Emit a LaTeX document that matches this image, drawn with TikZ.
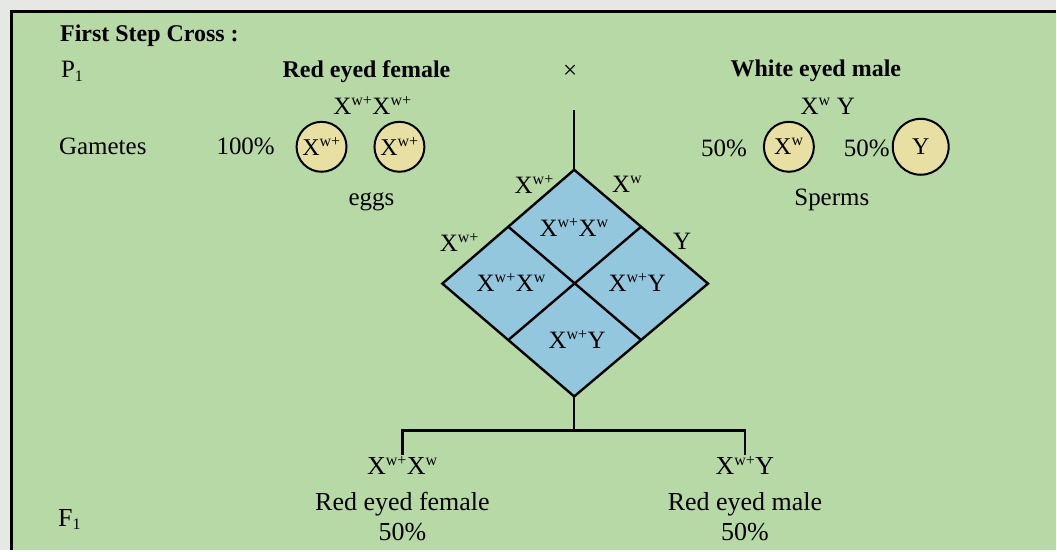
\documentclass[tikz,border=0pt]{standalone}
\usepackage{fontspec}
\setmainfont{Liberation Serif}
\usetikzlibrary{positioning,calc}
\definecolor{Paper}{HTML}{E6E8E3}
\definecolor{Leaf}{HTML}{B7D9A6}
\definecolor{Sky}{HTML}{93C7DE}
\definecolor{Cream}{HTML}{E8E0A2}
\newcommand{\gene}[1]{X\textsuperscript{\fontsize{16}{16}\selectfont #1}}
\newcommand{\gen}[2]{#1\textsubscript{\fontsize{16}{16}\selectfont #2}}

\begin{document}
\begin{tikzpicture}[x=1pt,y=-1pt,
    txt/.style={font=\fontsize{25}{29}\selectfont, inner sep=1pt, anchor=base},
    bold/.style={txt, font=\fontsize{24}{28}\selectfont\bfseries},
    gamete/.style={circle, draw, line width=2pt, fill=Cream, minimum size=50pt, inner sep=0pt, font=\fontsize{24}{28}\selectfont},
    grid/.style={line width=2.4pt}
  ]
    % page and frame
    \fill[Paper] (0,0) rectangle (1057,551);
    \fill[Leaf] (12,12) rectangle (1057,551);
    \draw[line width=3pt] (1057,12) -- (12,12) -- (12,551);

    % parents
    \node[bold, anchor=base west] (title) at (59,42) {First Step Cross :};
    \node[txt, anchor=base west] (p1) at (60,78) {\gen{P}{1}};
    \node[bold] (mother) at (367,78) {Red eyed female};
    \node[txt] (cross) at (571,79) {×};
    \node[bold] (father) at (817,77) {White eyed male};
    \node[txt] (mgeno) at (373,115) {\gene{w+}\gene{w+}};
    \node[txt] (fgeno) at (829,115) {\gene{w}\ Y};

    % gametes
    \node[txt, anchor=base west] (gam) at (58,155) {Gametes};
    \node[txt] (pctA) at (246,155) {100\%};
    \node[gamete] (eggA) at (322,147) {\gene{w+}};
    \node[gamete] (eggB) at (400,147) {\gene{w+}};
    \node[txt] (pctB) at (725,157) {50\%};
    \node[gamete] (spA) at (790,147) {\gene{w}};
    \node[txt] (pctC) at (868,157) {50\%};
    \node[gamete, minimum size=56pt] (spB) at (922,147) {Y};
    \node[txt] (eggs) at (372,206) {eggs};
    \node[txt] (sperm) at (833,206) {Sperms};

    % checker board
    \coordinate (stem) at (575,110);
    \coordinate (top) at (575,170);
    \coordinate (lft) at (443,284);
    \coordinate (rgt) at (709,284);
    \coordinate (bot) at (575,397);
    \fill[Sky] (top) -- (rgt) -- (bot) -- (lft) -- cycle;
    \draw[grid] (top) -- (rgt) -- (bot) -- (lft) -- cycle;
    \draw[grid] ($(top)!.5!(lft)$) -- ($(rgt)!.5!(bot)$);
    \draw[grid] ($(top)!.5!(rgt)$) -- ($(lft)!.5!(bot)$);
    \draw[grid] (stem) -- (top);

    \node[txt, anchor=center] (eggTop) at (535,185) {\gene{w+}};
    \node[txt, anchor=center] (spTop) at (628,185) {\gene{w}};
    \node[txt, anchor=center] (eggLow) at (460,243) {\gene{w+}};
    \node[txt, anchor=center] (spLow) at (683,242) {Y};
    \node[txt, anchor=center] (cellN) at (575,228) {\gene{w+}\gene{w}};
    \node[txt, anchor=center] (cellW) at (512,283) {\gene{w+}\gene{w}};
    \node[txt, anchor=center] (cellE) at (638,283) {\gene{w+}Y};
    \node[txt, anchor=center] (cellS) at (578,340) {\gene{w+}Y};

    % offspring
    \coordinate (hub) at (575,431);
    \node[txt, font=\fontsize{26}{30}\selectfont, anchor=base west] (f1) at (57,527) {\gen{F}{1}};
    \node[txt, font=\fontsize{26}{30}\selectfont] (daughter) at (403,475) {\gene{w+}\gene{w}};
    \node[txt, font=\fontsize{26}{30}\selectfont] (son) at (746,475) {\gene{w+}Y};
    \node[txt, font=\fontsize{26}{30}\selectfont] (dSex) at (403,511) {Red eyed female};
    \node[txt, font=\fontsize{26}{30}\selectfont] (sSex) at (746,511) {Red eyed male};
    \node[txt, font=\fontsize{26}{30}\selectfont] (dPct) at (403,541) {50\%};
    \node[txt, font=\fontsize{26}{30}\selectfont] (sPct) at (746,541) {50\%};

    \draw[grid] (bot) -- (hub);
    \draw[grid] (daughter.north) |- (hub) -| (son.north);
\end{tikzpicture}
\end{document}
